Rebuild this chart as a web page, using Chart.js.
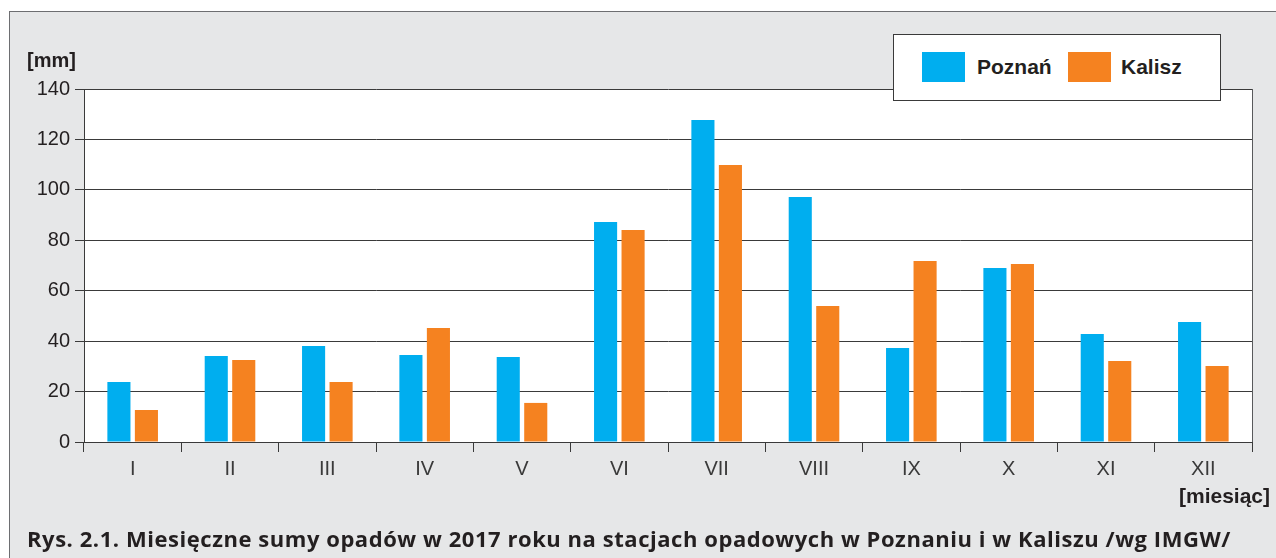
<!DOCTYPE html>
<html lang="pl">
  <head>
    <meta charset="UTF-8" />
    <title>Miesięczne sumy opadów 2017</title>
    <script src="https://cdn.jsdelivr.net/npm/chart.js"></script>
    <style>
      html, body {
        margin: 0;
        padding: 0;
        background: #ffffff;
        width: 1276px;
        height: 558px;
        overflow: hidden;
        font-family: "Liberation Sans", Arial, sans-serif;
      }
      .panel {
        position: absolute;
        left: 9px;
        top: 11px;
        width: 1280px;
        height: 560px;
        background: #e6e7e8;
        border-left: 1px solid #6d6e71;
        border-top: 1px solid #6d6e71;
      }
      #chart-wrap {
        position: absolute;
        left: 0;
        top: 0;
        width: 1276px;
        height: 558px;
      }
      .unit {
        position: absolute;
        font-weight: bold;
        font-size: 20px;
        color: #231f20;
        line-height: 1;
      }
      .legend {
        position: absolute;
        left: 893px;
        top: 34px;
        width: 326px;
        height: 65px;
        background: #ffffff;
        border: 1px solid #3a3a3a;
      }
      .legend .sw {
        position: absolute;
        top: 17px;
        width: 43px;
        height: 30px;
      }
      .legend .lbl {
        position: absolute;
        top: 21px;
        font-weight: bold;
        font-size: 21px;
        line-height: 1;
        color: #231f20;
      }
      .caption {
        position: absolute;
        left: 27px;
        top: 527px;
        font-family: "Open Sans", sans-serif;
        font-weight: bold;
        font-size: 22px;
        letter-spacing: 0.55px;
        line-height: 1;
        color: #231f20;
        white-space: nowrap;
      }
    </style>
  </head>
  <body>
    <div class="panel"></div>
    <div id="chart-wrap"><canvas id="rainChart"></canvas></div>

    <div class="unit" style="left: 27px; top: 50px;">[mm]</div>
    <div class="unit" style="left: 1179px; top: 485px; font-size: 21px;">[miesiąc]</div>

    <div class="legend">
      <div class="sw" style="left: 28px; background: #00aeef;"></div>
      <div class="lbl" style="left: 83px;">Poznań</div>
      <div class="sw" style="left: 174px; background: #f58220;"></div>
      <div class="lbl" style="left: 227px;">Kalisz</div>
    </div>

    <div class="caption">Rys. 2.1. Miesięczne sumy opadów w 2017 roku na stacjach opadowych w Poznaniu i w Kaliszu /wg IMGW/</div>

    <script>
      // monthly precipitation totals [mm]
      const months = ["I", "II", "III", "IV", "V", "VI", "VII", "VIII", "IX", "X", "XI", "XII"];
      const poznan = [23.8, 34.1, 38.1, 34.5, 33.7, 87.3, 127.7, 97.2, 37.3, 69.0, 42.8, 47.6];
      const kalisz = [12.7, 32.5, 23.8, 45.2, 15.5, 84.1, 109.9, 53.9, 71.8, 70.6, 32.1, 30.1];
      const yTicks = [0, 20, 40, 60, 80, 100, 120, 140];

      // white plot area + right frame line
      const plotFrame = {
        id: "plotFrame",
        beforeDraw(chart) {
          const { ctx, chartArea: a } = chart;
          ctx.save();
          ctx.fillStyle = "#ffffff";
          ctx.fillRect(a.left, a.top, a.right - a.left, a.bottom - a.top);
          ctx.restore();
        },
        afterDraw(chart) {
          const { ctx, chartArea: a } = chart;
          ctx.save();
          ctx.strokeStyle = "#58595b";
          ctx.lineWidth = 1;
          ctx.beginPath();
          ctx.moveTo(a.right + 0.5, a.top);
          ctx.lineTo(a.right + 0.5, a.bottom);
          ctx.stroke();
          ctx.restore();
        }
      };

      const chart = new Chart(document.getElementById("rainChart"), {
        type: "bar",
        data: {
          labels: months,
          datasets: [
            {
              label: "Poznań",
              data: poznan,
              backgroundColor: "#00aeef",
              categoryPercentage: 0.565,
              barPercentage: 0.84
            },
            {
              label: "Kalisz",
              data: kalisz,
              backgroundColor: "#f58220",
              categoryPercentage: 0.565,
              barPercentage: 0.84
            }
          ]
        },
        options: {
          responsive: true,
          maintainAspectRatio: false,
          animation: false,
          layout: { padding: { left: 0, top: 89, right: 24, bottom: 0 } },
          plugins: {
            legend: { display: false },
            tooltip: { enabled: false }
          },
          scales: {
            x: {
              grid: {
                offset: true,
                drawOnChartArea: false,
                drawTicks: true,
                tickLength: 10,
                color: "#3a3a3a"
              },
              border: { display: true, color: "#3a3a3a", width: 1 },
              ticks: {
                color: "#3a3a3a",
                font: { family: "Liberation Sans", size: 20 },
                padding: 5
              },
              afterFit(scale) { scale.height = 116; }
            },
            y: {
              min: 0,
              max: 140,
              afterBuildTicks(scale) {
                scale.ticks = yTicks.map(v => ({ value: v }));
              },
              grid: {
                color: "#3a3a3a",
                drawTicks: true,
                tickLength: 9
              },
              border: { display: true, color: "#3a3a3a", width: 1 },
              ticks: {
                color: "#231f20",
                font: { family: "Liberation Sans", size: 20 },
                padding: 5
              },
              afterFit(scale) { scale.width = 84; }
            }
          }
        },
        plugins: [plotFrame]
      });
    </script>
  </body>
</html>
